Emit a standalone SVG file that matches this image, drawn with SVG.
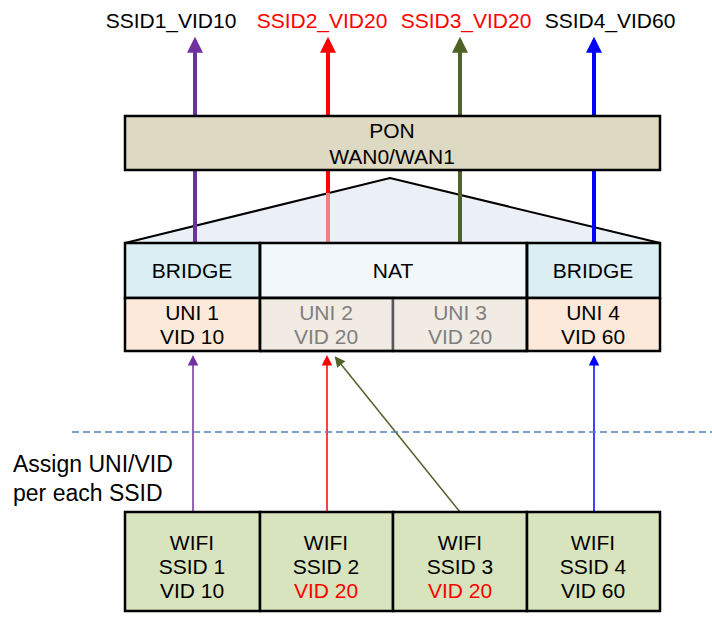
<svg xmlns="http://www.w3.org/2000/svg" width="712" height="617" viewBox="0 0 712 617">
<style>
text{font-family:"Liberation Sans",Arial,sans-serif;font-size:21px;fill:#000;text-anchor:middle}
.red{fill:#ff0000}
.gray{fill:#7f7f7f}
.note{font-size:23px;text-anchor:start}
.box{stroke:#000;stroke-width:2.5}
.thick{stroke-width:4;fill:none}
.thin{stroke-width:1.5;fill:none}
</style>
<defs>
<marker id="hp" viewBox="0 0 10 10" refX="8" refY="5" markerWidth="4.5" markerHeight="4" orient="auto" markerUnits="strokeWidth"><path d="M0,0 L10,5 L0,10 z" fill="#7030a0"/></marker>
<marker id="hr" viewBox="0 0 10 10" refX="8" refY="5" markerWidth="4.5" markerHeight="4" orient="auto" markerUnits="strokeWidth"><path d="M0,0 L10,5 L0,10 z" fill="#ff0000"/></marker>
<marker id="ho" viewBox="0 0 10 10" refX="8" refY="5" markerWidth="4.5" markerHeight="4" orient="auto" markerUnits="strokeWidth"><path d="M0,0 L10,5 L0,10 z" fill="#4f6228"/></marker>
<marker id="hb" viewBox="0 0 10 10" refX="8" refY="5" markerWidth="4.5" markerHeight="4" orient="auto" markerUnits="strokeWidth"><path d="M0,0 L10,5 L0,10 z" fill="#0000ff"/></marker>
<marker id="tp" viewBox="0 0 10 10" refX="8" refY="5" markerWidth="8" markerHeight="7" orient="auto" markerUnits="strokeWidth"><path d="M0,0 L10,5 L0,10 z" fill="#7030a0"/></marker>
<marker id="tr" viewBox="0 0 10 10" refX="8" refY="5" markerWidth="8" markerHeight="7" orient="auto" markerUnits="strokeWidth"><path d="M0,0 L10,5 L0,10 z" fill="#ff0000"/></marker>
<marker id="to" viewBox="0 0 10 10" refX="8" refY="5" markerWidth="8" markerHeight="7" orient="auto" markerUnits="strokeWidth"><path d="M0,0 L10,5 L0,10 z" fill="#4f6228"/></marker>
<marker id="tb" viewBox="0 0 10 10" refX="8" refY="5" markerWidth="8" markerHeight="7" orient="auto" markerUnits="strokeWidth"><path d="M0,0 L10,5 L0,10 z" fill="#0000ff"/></marker>
</defs>

<g id="labels-top">
<text x="171" y="28">SSID1_VID10</text>
<text x="322" y="28" class="red">SSID2_VID20</text>
<text x="466" y="28" class="red">SSID3_VID20</text>
<text x="610" y="28">SSID4_VID60</text>
</g>

<g id="triangle">
<polygon points="125,243 390,178 660,243" fill="#ebf0f7" stroke="#000" stroke-width="2"/>
</g>

<g id="connectors">
<line x1="195" y1="245" x2="195" y2="40" stroke="#7030a0" class="thick" marker-end="url(#hp)"/>
<line x1="328" y1="193" x2="328" y2="40" stroke="#ff0000" class="thick" marker-end="url(#hr)"/>
<line x1="328" y1="245" x2="328" y2="193" stroke="#f08080" class="thick"/>
<line x1="460" y1="245" x2="460" y2="40" stroke="#4f6228" class="thick" marker-end="url(#ho)"/>
<line x1="594" y1="245" x2="594" y2="40" stroke="#0000ff" class="thick" marker-end="url(#hb)"/>
<line x1="193" y1="512" x2="193" y2="357" stroke="#7030a0" class="thin" marker-end="url(#tp)"/>
<line x1="327" y1="512" x2="327" y2="357" stroke="#ff0000" class="thin" marker-end="url(#tr)"/>
<line x1="460" y1="512" x2="336" y2="358" stroke="#4f6228" class="thin" marker-end="url(#to)"/>
<line x1="594" y1="512" x2="594" y2="357" stroke="#0000ff" class="thin" marker-end="url(#tb)"/>
<line x1="72" y1="432" x2="712" y2="432" stroke="#4f81bd" stroke-width="1.5" stroke-dasharray="7,4"/>
</g>

<g id="pon">
<rect x="125" y="116" width="535" height="54" fill="#ddd9c3" class="box"/>
<text x="392" y="138">PON</text>
<text x="392" y="164">WAN0/WAN1</text>
</g>

<g id="bridge1">
<rect x="125" y="243" width="135" height="55" fill="#dbeef4" class="box"/>
<text x="192" y="278">BRIDGE</text>
</g>
<g id="nat">
<rect x="260" y="243" width="267" height="55" fill="#f1f7fa" class="box"/>
<text x="393" y="278">NAT</text>
</g>
<g id="bridge2">
<rect x="527" y="243" width="133" height="55" fill="#dbeef4" class="box"/>
<text x="593" y="278">BRIDGE</text>
</g>

<g id="uni1">
<rect x="125" y="298" width="135" height="53" fill="#fde9d9" class="box"/>
<text x="192" y="320">UNI 1</text>
<text x="192" y="344">VID 10</text>
</g>
<g id="uni2">
<rect x="260" y="298" width="133" height="53" fill="#f2ebe4" stroke="#595959" stroke-width="2.5"/>
<text x="326" y="320" class="gray">UNI 2</text>
<text x="326" y="344" class="gray">VID 20</text>
</g>
<g id="uni3">
<rect x="393" y="298" width="134" height="53" fill="#f2ebe4" stroke="#595959" stroke-width="2.5"/>
<text x="460" y="320" class="gray">UNI 3</text>
<text x="460" y="344" class="gray">VID 20</text>
</g>
<g id="uni4">
<rect x="527" y="298" width="133" height="53" fill="#fde9d9" class="box"/>
<text x="593" y="320">UNI 4</text>
<text x="593" y="344">VID 60</text>
</g>
<g id="uni-frame">
<line x1="260" y1="351" x2="527" y2="351" stroke="#000" stroke-width="2.5"/>
<line x1="260" y1="298" x2="527" y2="298" stroke="#000" stroke-width="2.5"/>
<line x1="260" y1="243" x2="260" y2="352" stroke="#000" stroke-width="2.5"/>
<line x1="527" y1="243" x2="527" y2="352" stroke="#000" stroke-width="2.5"/>
</g>

<g id="note">
<text x="13" y="472" class="note">Assign UNI/VID</text>
<text x="13" y="501" class="note">per each SSID</text>
</g>

<g id="wifi1">
<rect x="125" y="512" width="135" height="99" fill="#d7e4bd" class="box"/>
<text x="192" y="550">WIFI</text>
<text x="192" y="574">SSID 1</text>
<text x="192" y="598">VID 10</text>
</g>
<g id="wifi2">
<rect x="260" y="512" width="133" height="99" fill="#d7e4bd" class="box"/>
<text x="326" y="550">WIFI</text>
<text x="326" y="574">SSID 2</text>
<text x="326" y="598" class="red">VID 20</text>
</g>
<g id="wifi3">
<rect x="393" y="512" width="134" height="99" fill="#d7e4bd" class="box"/>
<text x="460" y="550">WIFI</text>
<text x="460" y="574">SSID 3</text>
<text x="460" y="598" class="red">VID 20</text>
</g>
<g id="wifi4">
<rect x="527" y="512" width="133" height="99" fill="#d7e4bd" class="box"/>
<text x="593" y="550">WIFI</text>
<text x="593" y="574">SSID 4</text>
<text x="593" y="598">VID 60</text>
</g>
</svg>
